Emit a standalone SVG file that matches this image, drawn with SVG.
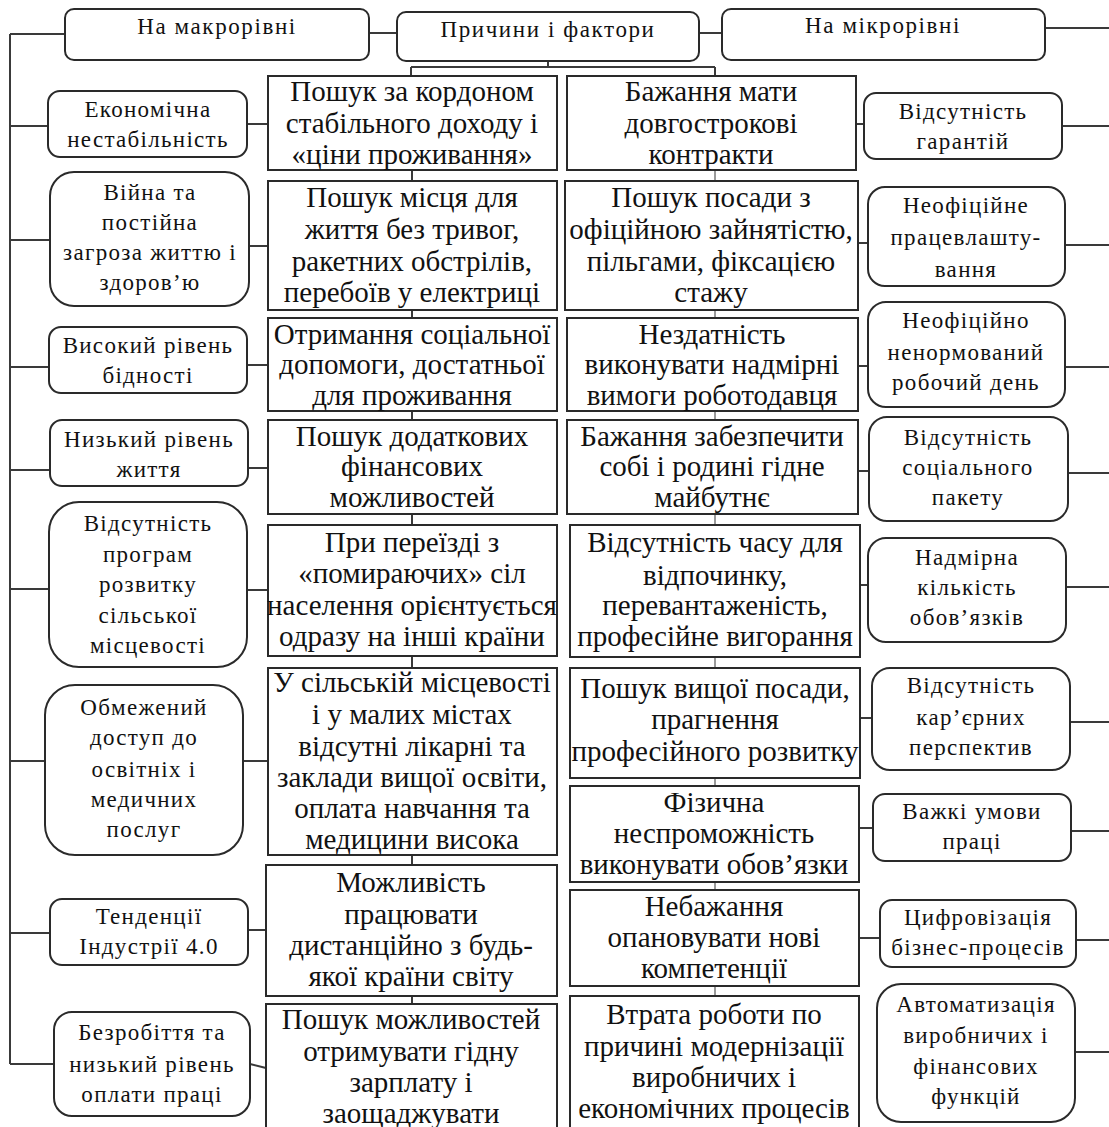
<svg xmlns="http://www.w3.org/2000/svg" width="1109" height="1127" viewBox="0 0 1109 1127">
<style>
.bx{fill:#fff;stroke:#2a2a2a;stroke-width:2}
.c{fill:none;stroke:#3a3a3a;stroke-width:2}
.cg{fill:none;stroke:#9a9a9a;stroke-width:2}
text{font-family:'Liberation Serif','DejaVu Serif',serif;fill:#111;text-anchor:middle}
.tt{font-size:23px;letter-spacing:1.6px}
.ts{font-size:23px;letter-spacing:1.3px}
.tm{font-size:29px}
</style>
<rect width="1109" height="1127" fill="#fff"/>
<g id="connectors">
<path class="c" d="M10,34H65M10,34V1064M369,33H397M699,33H722M1045,28H1109M548,61V67M411,67H715M411,67V76M715,67V76"/>
<path class="c" d="M10,126H48M247,124H269M10,240H50M249,246H268M10,367H49M247,365H268M10,470H50M248,468H268M10,589H49M247,590H268M10,761H45M243,761H268M10,933H50M248,930H266M10,1064H54M250,1064L266,1068"/>
<path class="c" d="M412,170V181M412,310V318M412,411V420M412,514V525M412,656V668M412,855V865M412,996V1004"/>
<path class="cg" d="M715,170V181M715,310V318M715,411V420M715,514V525M715,657V668M715,778V786M715,882V890M715,986V996"/>
<path class="c" d="M856,124H864M1062,126H1109M858,243H868M1065,245H1109M858,366H868M1065,367H1109M858,471H869M1068,473H1109M860,585H868M1066,587H1109M860,718H872M1070,722H1109M859,828H873M1071,831H1109M859,938H880M1076,940H1109M1075,1052H1109"/>
</g>
<g font-family="Liberation Serif, DejaVu Serif, serif">
<g id="top_macro"><rect class="bx" x="65" y="9" width="304" height="51" rx="9"/><text class="tt" x="217" y="34">На макрорівні</text></g>
<g id="top_causes"><rect class="bx" x="397" y="12" width="302" height="49" rx="9"/><text class="tt" x="548" y="37">Причини і фактори</text></g>
<g id="top_micro"><rect class="bx" x="722" y="9" width="323" height="51" rx="9"/><text class="tt" x="883" y="33">На мікрорівні</text></g>

<g id="L1"><rect class="bx" x="48" y="91" width="199" height="66" rx="12"/><text class="ts" x="148" y="117">Економічна</text><text class="ts" x="148" y="147">нестабільність</text></g>
<g id="L2"><rect class="bx" x="50" y="172" width="199" height="134" rx="24"/><text class="ts" x="150" y="200">Війна та</text><text class="ts" x="150" y="230">постійна</text><text class="ts" x="150" y="260">загроза життю і</text><text class="ts" x="150" y="290">здоров’ю</text></g>
<g id="L3"><rect class="bx" x="49" y="327" width="198" height="66" rx="12"/><text class="ts" x="148" y="353">Високий рівень</text><text class="ts" x="148" y="383">бідності</text></g>
<g id="L4"><rect class="bx" x="50" y="420" width="198" height="66" rx="12"/><text class="ts" x="149" y="447">Низький рівень</text><text class="ts" x="149" y="477">життя</text></g>
<g id="L5"><rect class="bx" x="49" y="502" width="198" height="165" rx="30"/><text class="ts" x="148" y="531">Відсутність</text><text class="ts" x="148" y="562">програм</text><text class="ts" x="148" y="592">розвитку</text><text class="ts" x="148" y="623">сільської</text><text class="ts" x="148" y="653">місцевості</text></g>
<g id="L6"><rect class="bx" x="45" y="685" width="198" height="170" rx="30"/><text class="ts" x="144" y="715">Обмежений</text><text class="ts" x="144" y="745">доступ до</text><text class="ts" x="144" y="777">освітніх і</text><text class="ts" x="144" y="807">медичних</text><text class="ts" x="144" y="837">послуг</text></g>
<g id="L7"><rect class="bx" x="50" y="899" width="198" height="66" rx="12"/><text class="ts" x="149" y="924">Тенденції</text><text class="ts" x="149" y="954">Індустрії 4.0</text></g>
<g id="L8"><rect class="bx" x="54" y="1012" width="196" height="104" rx="18"/><text class="ts" x="152" y="1040">Безробіття та</text><text class="ts" x="152" y="1072">низький рівень</text><text class="ts" x="152" y="1102">оплати праці</text></g>

<g id="M1"><rect class="bx" x="268" y="76" width="289" height="94"/><text class="tm" x="412" y="101">Пошук за кордоном</text><text class="tm" x="412" y="133">стабільного доходу і</text><text class="tm" x="412" y="164">«ціни проживання»</text></g>
<g id="M2"><rect class="bx" x="268" y="181" width="289" height="129"/><text class="tm" x="412" y="207">Пошук місця для</text><text class="tm" x="412" y="239">життя без тривог,</text><text class="tm" x="412" y="271">ракетних обстрілів,</text><text class="tm" x="412" y="302">перебоїв у електриці</text></g>
<g id="M3"><rect class="bx" x="268" y="318" width="289" height="93"/><text class="tm" x="412" y="344">Отримання соціальної</text><text class="tm" x="412" y="374">допомоги, достатньої</text><text class="tm" x="412" y="405">для проживання</text></g>
<g id="M4"><rect class="bx" x="268" y="420" width="289" height="94"/><text class="tm" x="412" y="446">Пошук додаткових</text><text class="tm" x="412" y="476">фінансових</text><text class="tm" x="412" y="507">можливостей</text></g>
<g id="M5"><rect class="bx" x="268" y="525" width="289" height="131"/><text class="tm" x="412" y="552">При переїзді з</text><text class="tm" x="412" y="583">«помираючих» сіл</text><text class="tm" x="412" y="615">населення орієнтується</text><text class="tm" x="412" y="646">одразу на інші країни</text></g>
<g id="M6"><rect class="bx" x="268" y="668" width="289" height="187"/><text class="tm" x="412" y="692">У сільській місцевості</text><text class="tm" x="412" y="724">і у малих містах</text><text class="tm" x="412" y="756">відсутні лікарні та</text><text class="tm" x="412" y="787">заклади вищої освіти,</text><text class="tm" x="412" y="818">оплата навчання та</text><text class="tm" x="412" y="849">медицини висока</text></g>
<g id="M7"><rect class="bx" x="266" y="865" width="291" height="131"/><text class="tm" x="411" y="892">Можливість</text><text class="tm" x="411" y="924">працювати</text><text class="tm" x="411" y="955">дистанційно з будь-</text><text class="tm" x="411" y="986">якої країни світу</text></g>
<g id="M8"><rect class="bx" x="266" y="1004" width="291" height="140"/><text class="tm" x="411" y="1029">Пошук можливостей</text><text class="tm" x="411" y="1061">отримувати гідну</text><text class="tm" x="411" y="1092">зарплату і</text><text class="tm" x="411" y="1123">заощаджувати</text></g>

<g id="R1"><rect class="bx" x="567" y="76" width="289" height="94"/><text class="tm" x="711" y="101">Бажання мати</text><text class="tm" x="711" y="133">довгострокові</text><text class="tm" x="711" y="164">контракти</text></g>
<g id="R2"><rect class="bx" x="565" y="181" width="293" height="129"/><text class="tm" x="711" y="207">Пошук посади з</text><text class="tm" x="711" y="239">офіційною зайнятістю,</text><text class="tm" x="711" y="271">пільгами, фіксацією</text><text class="tm" x="711" y="302">стажу</text></g>
<g id="R3"><rect class="bx" x="567" y="318" width="291" height="93"/><text class="tm" x="712" y="344">Нездатність</text><text class="tm" x="712" y="374">виконувати надмірні</text><text class="tm" x="712" y="405">вимоги роботодавця</text></g>
<g id="R4"><rect class="bx" x="567" y="420" width="291" height="94"/><text class="tm" x="712" y="446">Бажання забезпечити</text><text class="tm" x="712" y="476">собі і родині гідне</text><text class="tm" x="712" y="507">майбутнє</text></g>
<g id="R5"><rect class="bx" x="570" y="525" width="290" height="132"/><text class="tm" x="715" y="552">Відсутність часу для</text><text class="tm" x="715" y="585">відпочинку,</text><text class="tm" x="715" y="615">перевантаженість,</text><text class="tm" x="715" y="646">професійне вигорання</text></g>
<g id="R6"><rect class="bx" x="570" y="668" width="290" height="110"/><text class="tm" x="715" y="698">Пошук вищої посади,</text><text class="tm" x="715" y="729">прагнення</text><text class="tm" x="715" y="761">професійного розвитку</text></g>
<g id="R7"><rect class="bx" x="570" y="786" width="289" height="96"/><text class="tm" x="714" y="812">Фізична</text><text class="tm" x="714" y="843">неспроможність</text><text class="tm" x="714" y="874">виконувати обов’язки</text></g>
<g id="R8"><rect class="bx" x="570" y="890" width="289" height="96"/><text class="tm" x="714" y="916">Небажання</text><text class="tm" x="714" y="947">опановувати нові</text><text class="tm" x="714" y="978">компетенції</text></g>
<g id="R9"><rect class="bx" x="570" y="996" width="289" height="140"/><text class="tm" x="714" y="1024">Втрата роботи по</text><text class="tm" x="714" y="1056">причині модернізації</text><text class="tm" x="714" y="1087">виробничих і</text><text class="tm" x="714" y="1118">економічних процесів</text></g>

<g id="S1"><rect class="bx" x="864" y="93" width="198" height="66" rx="12"/><text class="ts" x="963" y="119">Відсутність</text><text class="ts" x="963" y="149">гарантій</text></g>
<g id="S2"><rect class="bx" x="868" y="187" width="197" height="99" rx="17"/><text class="ts" x="966" y="213">Неофіційне</text><text class="ts" x="966" y="245">працевлашту-</text><text class="ts" x="966" y="277">вання</text></g>
<g id="S3"><rect class="bx" x="868" y="302" width="197" height="105" rx="18"/><text class="ts" x="966" y="328">Неофіційно</text><text class="ts" x="966" y="360">ненормований</text><text class="ts" x="966" y="390">робочий день</text></g>
<g id="S4"><rect class="bx" x="869" y="417" width="199" height="104" rx="18"/><text class="ts" x="968" y="445">Відсутність</text><text class="ts" x="968" y="475">соціального</text><text class="ts" x="968" y="505">пакету</text></g>
<g id="S5"><rect class="bx" x="868" y="538" width="198" height="104" rx="18"/><text class="ts" x="967" y="565">Надмірна</text><text class="ts" x="967" y="595">кількість</text><text class="ts" x="967" y="625">обов’язків</text></g>
<g id="S6"><rect class="bx" x="872" y="668" width="198" height="102" rx="18"/><text class="ts" x="971" y="693">Відсутність</text><text class="ts" x="971" y="725">кар’єрних</text><text class="ts" x="971" y="755">перспектив</text></g>
<g id="S7"><rect class="bx" x="873" y="794" width="198" height="67" rx="12"/><text class="ts" x="972" y="819">Важкі умови</text><text class="ts" x="972" y="849">праці</text></g>
<g id="S8"><rect class="bx" x="880" y="900" width="196" height="67" rx="12"/><text class="ts" x="978" y="925">Цифровізація</text><text class="ts" x="978" y="955">бізнес-процесів</text></g>
<g id="S9"><rect class="bx" x="877" y="984" width="198" height="138" rx="24"/><text class="ts" x="976" y="1012">Автоматизація</text><text class="ts" x="976" y="1043">виробничих і</text><text class="ts" x="976" y="1074">фінансових</text><text class="ts" x="976" y="1104">функцій</text></g>
</g>
</svg>
